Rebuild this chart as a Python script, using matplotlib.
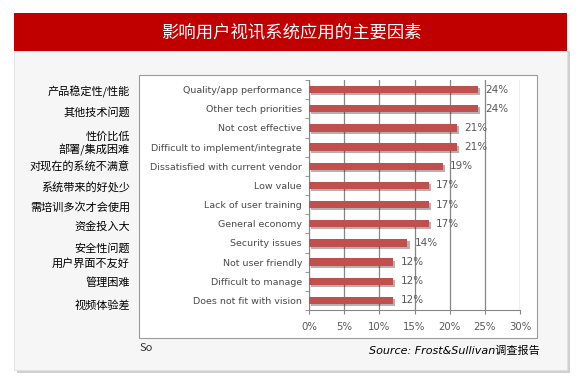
import matplotlib
matplotlib.use("Agg")
import matplotlib.pyplot as plt
import matplotlib.patheffects as pe
from matplotlib.patches import Rectangle

# data
factors_en = ["Quality/app performance", "Other tech priorities", "Not cost effective",
              "Difficult to implement/integrate", "Dissatisfied with current vendor",
              "Low value", "Lack of user training", "General economy", "Security issues",
              "Not user friendly", "Difficult to manage", "Does not fit with vision"]
shares = [24, 24, 21, 21, 19, 17, 17, 17, 14, 12, 12, 12]
factors_cn = ["产品稳定性/性能", "其他技术问题", "性价比低", "部署/集成困难", "对现在的系统不满意",
              "系统带来的好处少", "需培训多次才会使用", "资金投入大", "安全性问题",
              "用户界面不友好", "管理困难", "视频体验差"]
# vertical pixel positions of the chinese labels (they do not line up with the bars)
cn_y_px = [92, 112, 137, 150, 167, 187, 207, 227, 248, 263, 283, 306]
x_ticks = [0, 5, 10, 15, 20, 25, 30]

W, H = 583, 376
CJK = ["Noto Sans CJK SC", "DejaVu Sans"]

fig = plt.figure(figsize=(W / 100, H / 100), dpi=100)
fig.patch.set_facecolor("white")


def fx(px):
    return px / W


def fy(py):
    return 1 - py / H


# card with a soft shadow
fig.patches.append(Rectangle((fx(17), fy(373)), fx(553), 322 / H, transform=fig.transFigure,
                             facecolor="#d0d0d0", edgecolor="none", zorder=0))
fig.patches.append(Rectangle((fx(14), fy(370)), fx(553), 319 / H, transform=fig.transFigure,
                             facecolor="#f6f6f6", edgecolor="#e0e0e0", lw=0.6, zorder=1))
# red title banner
fig.patches.append(Rectangle((fx(14), fy(51)), fx(553), 38 / H, transform=fig.transFigure,
                             facecolor="#c00000", edgecolor="none", zorder=2))
fig.text(fx(291), fy(32), "影响用户视讯系统应用的主要因素", color="white", fontsize=12.5,
         ha="center", va="center", family=CJK, zorder=3)
# inner chart box
fig.patches.append(Rectangle((fx(139), fy(338)), fx(398), 263 / H, transform=fig.transFigure,
                             facecolor="white", edgecolor="#9a9a9a", lw=0.8, zorder=2))

ax = fig.add_axes([fx(309), fy(310), fx(211), 230 / H], zorder=4)
ax.patch.set_alpha(0)
y = list(range(len(shares)))
bars = ax.barh(y, shares, height=0.38, color="#c0504d", zorder=3)
for b in bars:
    b.set_path_effects([pe.SimplePatchShadow(offset=(1.5, -1.5), alpha=0.35), pe.Normal()])
for yi, v in zip(y, shares):
    ax.text(v + 1.05, yi, f"{v}%", va="center", ha="left", fontsize=7.5, color="#595959", zorder=5)

ax.set_xlim(0, 30)
ax.set_ylim(len(shares) - 0.5, -0.5)
ax.set_xticks(x_ticks)
ax.set_xticklabels([f"{t}%" for t in x_ticks], fontsize=7.3, color="#595959")
ax.set_yticks(y)
ax.set_yticklabels(factors_en, fontsize=6.8, color="#4a4a4a")
ax.tick_params(axis="y", length=0, pad=5)
ax.tick_params(axis="x", length=3, color="#868686", pad=6)
ax.set_yticks([i + 0.5 for i in range(-1, len(shares))], minor=True)
ax.tick_params(axis="y", which="minor", length=3, color="#868686")
ax.grid(axis="x", color="#868686", lw=0.9, zorder=1)
for s in ["top", "right"]:
    ax.spines[s].set_visible(False)
ax.spines["left"].set_color("#868686")
ax.spines["bottom"].set_color("#868686")

for label, py in zip(factors_cn, cn_y_px):
    fig.text(fx(130), fy(py), label, ha="right", va="center", fontsize=8, family=CJK,
             color="black", zorder=5)

fig.text(fx(140), fy(348), "So", fontsize=8, color="#333333", va="center", family=CJK, zorder=5)
fig.text(fx(540), fy(351), "Source: Frost&Sullivan调查报告", fontsize=8, style="italic",
         ha="right", va="center", family=["DejaVu Sans", "Noto Sans CJK SC"], color="black",
         zorder=5)

fig.savefig("out.png", dpi=100)
